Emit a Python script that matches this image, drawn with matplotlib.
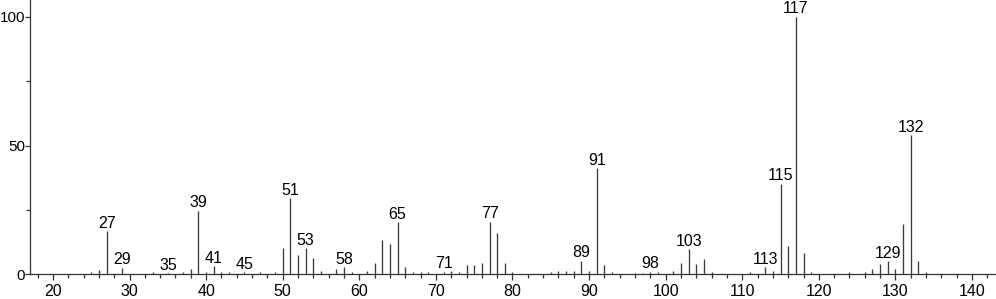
import matplotlib
matplotlib.use("Agg")
import matplotlib.pyplot as plt
from matplotlib.ticker import MultipleLocator, FixedLocator

plt.rcParams['font.family'] = ['Liberation Sans', 'DejaVu Sans']

mz = [25, 26, 27, 29, 33, 35, 37, 38, 39, 40, 41, 42, 43, 45, 47, 49,
      50, 51, 52, 53, 54, 55, 57, 58, 59, 61, 62, 63, 64, 65, 66, 67, 68, 69,
      71, 72, 73, 74, 75, 76, 77, 78, 79, 80, 85, 86, 87, 88, 89, 90, 91, 92,
      93, 96, 97, 98, 99, 101, 102, 103, 104, 105, 106, 111, 113, 114, 115,
      116, 117, 118, 119, 124, 126, 127, 128, 129, 130, 131, 132, 133, 134]
intensity = [0.8, 1.8, 16.7, 2.6, 0.8, 0.6, 1.0, 2.2, 24.8, 0.8, 3.1, 1.0, 1.0, 0.8, 0.8, 1.0,
             10.2, 29.5, 7.4, 10.2, 6.3, 1.5, 2.0, 2.8, 0.8, 1.5, 4.3, 13.4, 12.0, 20.2, 2.8, 1.0, 1.0, 0.8,
             1.0, 1.5, 1.0, 3.5, 3.5, 4.3, 20.5, 16.1, 4.5, 0.8, 0.8, 1.5, 1.5, 1.2, 5.4, 1.2, 41.3, 3.5,
             1.0, 0.5, 0.5, 1.0, 0.8, 1.2, 4.3, 9.7, 4.0, 6.2, 1.0, 1.0, 2.8, 1.3, 35.3,
             11.2, 100.0, 8.4, 0.8, 1.0, 1.0, 2.2, 4.0, 5.2, 2.2, 19.4, 54.0, 5.4, 1.0]
labeled = [27, 29, 35, 39, 41, 45, 51, 53, 58, 65, 71, 77, 89, 91, 98, 103,
           113, 115, 117, 129, 132]
x_ticks = [20, 30, 40, 50, 60, 70, 80, 90, 100, 110, 120, 130, 140]
y_ticks = [0, 50, 100]

fig = plt.figure(figsize=(9.96, 2.99), dpi=100)
ax = fig.add_axes([0.0301, 0.0820, 0.9689, 0.918])

ax.vlines(mz, 0, intensity, colors='#3c3c3c', linewidth=0.95)
lookup = dict(zip(mz, intensity))
for m in labeled:
    ax.annotate(str(m), xy=(m, lookup[m]), xytext=(0, 0.3), textcoords='offset points',
                ha='center', va='bottom', fontsize=11.5, color='black')

ax.set_xlim(17, 143)
ax.set_ylim(0, 106.5)
ax.xaxis.set_major_locator(FixedLocator(x_ticks))
ax.xaxis.set_minor_locator(MultipleLocator(2))
ax.yaxis.set_major_locator(FixedLocator(y_ticks))
ax.yaxis.set_minor_locator(FixedLocator([25, 75]))
ax.tick_params(axis='x', which='major', length=4, width=0.9, color='#333333',
               labelsize=11.5, pad=2.5)
ax.tick_params(axis='y', which='major', length=3.5, width=0.9, color='#333333',
               labelsize=11, pad=0)
ax.tick_params(axis='both', which='minor', length=3, width=0.9, color='#333333')
for s in ['top', 'right']:
    ax.spines[s].set_visible(False)
for s in ['left', 'bottom']:
    ax.spines[s].set_color('#333333')
    ax.spines[s].set_linewidth(0.9)

fig.savefig('out.png', dpi=100)
